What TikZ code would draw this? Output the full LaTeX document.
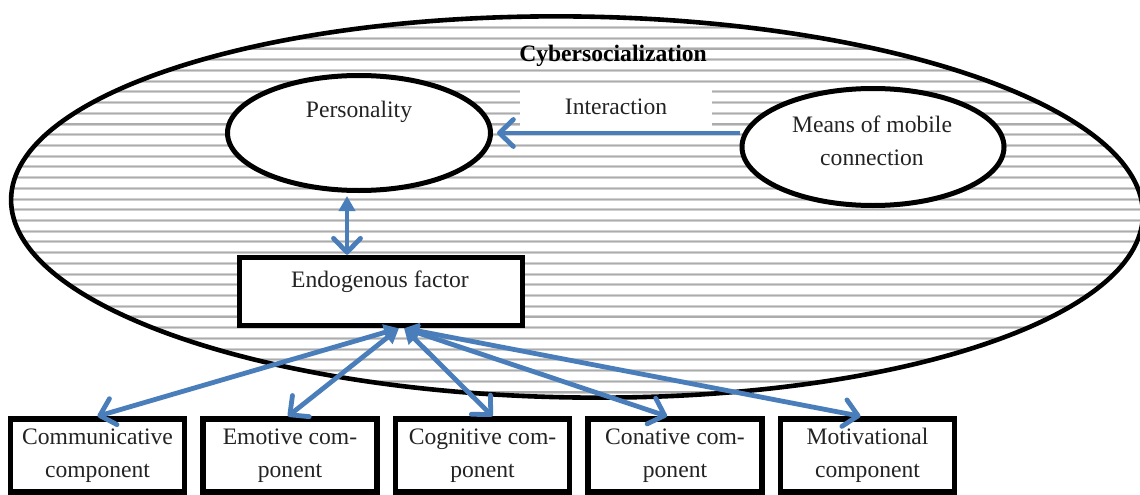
\documentclass[tikz,border=0pt]{standalone}
\usepackage{fontspec}
\setmainfont{Liberation Serif}
\usetikzlibrary{arrows.meta,shapes.geometric}
\definecolor{arrowblue}{RGB}{74,126,187}
\definecolor{txt}{RGB}{35,35,35}
\definecolor{stripeA}{RGB}{208,208,208}
\definecolor{stripeB}{RGB}{172,172,172}
\tikzset{
  openhead/.tip={Straight Barb[length=14pt,width=27pt,round]},
  fillhead/.tip={Triangle[length=15pt,width=16pt]}
}
\begin{document}
\begin{tikzpicture}[x=1pt,y=-1pt,
  font=\fontsize{23.6}{33}\selectfont,
  txtnode/.style={text=txt, inner sep=0pt, align=center},
  comp/.style={draw=black, line width=5.5pt, fill=white, minimum width=174pt,
    minimum height=73pt, inner sep=0pt, text=txt, align=center},
  oval/.style={draw=black, line width=5pt, fill=white, ellipse, inner sep=0pt},
  link/.style={draw=arrowblue, line width=4.8pt}
]
\useasboundingbox (0,0) rectangle (1140,495);
\fill[white] (0,0) rectangle (1140,495);

% striped background of the big ellipse
\begin{scope}
  \clip[rotate around={-0.8:(577,207)}] (577,207) ellipse [x radius=566, y radius=190.5];
  \foreach \k in {0,...,38} {
    \draw[stripeA, line width=3pt] (0,6.1+10.72*\k) -- (1140,6.1+10.72*\k);
    \draw[stripeB, line width=1.1pt] (0,6.1+10.72*\k) -- (1140,6.1+10.72*\k);
  }
\end{scope}
\fill[white] (520,89) rectangle (712,127);

% big ellipse
\node[draw=black, line width=4.6pt, ellipse, minimum width=1132pt, minimum height=381pt,
  inner sep=0pt, rotate=-0.8] (cyber) at (577,207) {};
\node[txtnode, font=\fontsize{23.6}{33}\selectfont\bfseries, text=black] (cybertxt) at (613,56) {Cybersocialization};

% inner ellipses
\node[oval, minimum width=263pt, minimum height=115pt] (pers) at (359,133) {};
\node[txtnode] (perstxt) at (359,112) {Personality};
\node[oval, minimum width=262pt, minimum height=117pt] (means) at (873,147) {};
\node[txtnode] (meanstxt) at (872,141) {Means of mobile\\connection};
\node[txtnode] (inter) at (616,107) {Interaction};

% endogenous factor
\node[draw=black, line width=5.5pt, fill=white, minimum width=283pt, minimum height=68pt,
  inner sep=0pt] (endo) at (381,291.5) {};
\node[txtnode] (endotxt) at (380,282) {Endogenous factor};

% component boxes
\node[comp] (b1) at (97.5,455.5) {Communicative\\component};
\node[comp] (b2) at (290,455.5) {Emotive com-\\ponent};
\node[comp] (b3) at (482.5,455.5) {Cognitive com-\\ponent};
\node[comp] (b4) at (675,455.5) {Conative com-\\ponent};
\node[comp] (b5) at (867.5,455.5) {Motivational\\component};

% connectors
\draw[link, -openhead] (means.west |- pers.east) -- ([xshift=4pt]pers.east);
\coordinate (vx) at (347,0);
\draw[link, fillhead-openhead] ([yshift=-3pt]vx |- pers.south) -- (vx |- endo.north);

\coordinate (eL) at ([xshift=18pt]endo.south);
\coordinate (eR) at ([xshift=23pt]endo.south);
\draw[link, fillhead-openhead] (eL) -- (b1.north);
\draw[link, fillhead-openhead] (eL) -- ([xshift=-2pt]b2.north);
\draw[link, fillhead-openhead] (eR) -- ([xshift=10pt]b3.north);
\draw[link, fillhead-openhead] (eR) -- ([xshift=-8pt]b4.north);
\draw[link, fillhead-openhead] (eR) -- ([xshift=-7pt]b5.north);
\end{tikzpicture}
\end{document}
